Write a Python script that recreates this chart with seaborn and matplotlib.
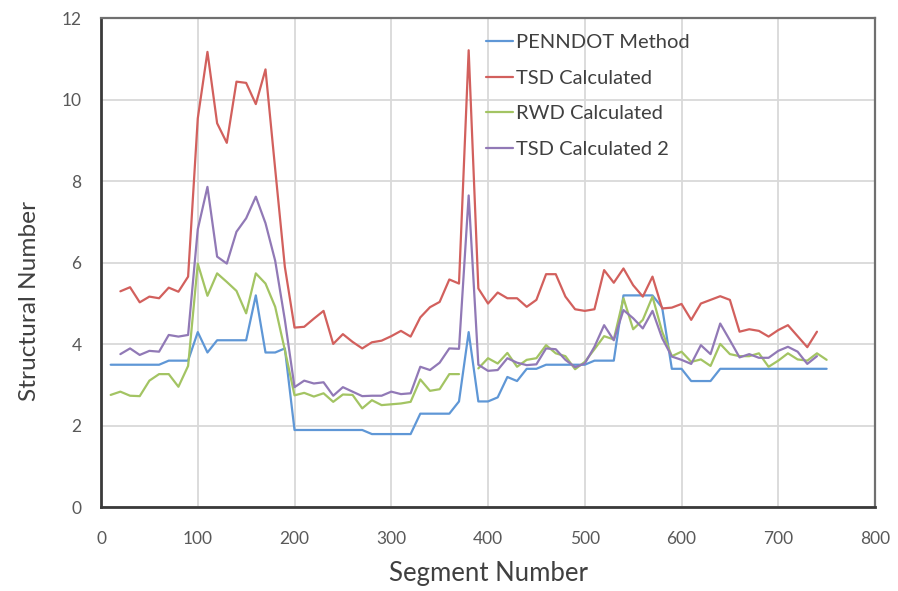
import numpy as np
import pandas as pd
import matplotlib
matplotlib.use("Agg")
import matplotlib.pyplot as plt
from matplotlib.lines import Line2D
import seaborn as sns

# Segment numbers (every 10th segment)
segments = list(range(10, 760, 10))

penndot = [3.5, 3.5, 3.5, 3.5, 3.5, 3.5, 3.6, 3.6, 3.6, 4.3,
           3.8, 4.1, 4.1, 4.1, 4.1, 5.2, 3.8, 3.8, 3.9, 1.9,
           1.9, 1.9, 1.9, 1.9, 1.9, 1.9, 1.9, 1.8, 1.8, 1.8,
           1.8, 1.8, 2.3, 2.3, 2.3, 2.3, 2.6, 4.3, 2.6, 2.6,
           2.7, 3.2, 3.1, 3.4, 3.4, 3.5, 3.5, 3.5, 3.5, 3.5,
           3.6, 3.6, 3.6, 5.2, 5.2, 5.2, 5.2, 4.9, 3.4, 3.4,
           3.1, 3.1, 3.1, 3.4, 3.4, 3.4, 3.4, 3.4, 3.4, 3.4,
           3.4, 3.4, 3.4, 3.4, 3.4]

tsd = [np.nan, 5.30, 5.40, 5.03, 5.17, 5.13, 5.39, 5.29, 5.66, 9.54,
       11.17, 9.42, 8.94, 10.44, 10.41, 9.89, 10.74, 8.30, 5.90, 4.41,
       4.43, 4.63, 4.82, 4.01, 4.25, 4.06, 3.90, 4.05, 4.09, 4.20,
       4.33, 4.19, 4.66, 4.91, 5.04, 5.59, 5.49, 11.21, 5.37, 5.00,
       5.27, 5.13, 5.13, 4.92, 5.09, 5.72, 5.72, 5.17, 4.86, 4.82,
       4.86, 5.82, 5.51, 5.86, 5.45, 5.17, 5.66, 4.88, 4.90, 4.99,
       4.60, 5.00, 5.09, 5.18, 5.09, 4.31, 4.37, 4.33, 4.19, 4.35,
       4.47, 4.20, 3.93, 4.31, np.nan]

rwd = [2.76, 2.84, 2.74, 2.73, 3.11, 3.27, 3.27, 2.96, 3.47, 5.98,
       5.19, 5.74, 5.53, 5.31, 4.76, 5.74, 5.49, 4.92, 3.86, 2.75,
       2.81, 2.72, 2.80, 2.59, 2.77, 2.76, 2.43, 2.63, 2.51, 2.53,
       2.55, 2.59, 3.14, 2.86, 2.90, 3.27, 3.27, np.nan, 3.41, 3.66,
       3.53, 3.79, 3.45, 3.62, 3.66, 3.98, 3.78, 3.71, 3.39, 3.57,
       3.88, 4.20, 4.12, 5.13, 4.37, 4.60, 5.17, 4.31, 3.71, 3.82,
       3.57, 3.63, 3.47, 4.01, 3.76, 3.71, 3.71, 3.78, 3.45, 3.60,
       3.78, 3.63, 3.60, 3.78, 3.62]

tsd2 = [np.nan, 3.76, 3.90, 3.74, 3.84, 3.82, 4.23, 4.19, 4.23, 6.82,
        7.86, 6.15, 5.98, 6.76, 7.09, 7.62, 6.97, 6.05, 4.60, 2.95,
        3.11, 3.04, 3.07, 2.74, 2.95, 2.84, 2.73, 2.74, 2.74, 2.84,
        2.78, 2.80, 3.45, 3.37, 3.55, 3.90, 3.89, 7.65, 3.50, 3.35,
        3.37, 3.66, 3.55, 3.49, 3.51, 3.90, 3.88, 3.62, 3.44, 3.53,
        3.94, 4.47, 4.10, 4.84, 4.64, 4.39, 4.82, 4.15, 3.70, 3.62,
        3.52, 3.98, 3.76, 4.51, 4.10, 3.68, 3.76, 3.67, 3.67, 3.84,
        3.94, 3.82, 3.52, 3.71, np.nan]

series_names = ["PENNDOT Method", "TSD Calculated", "RWD Calculated", "TSD Calculated 2"]
series_values = [penndot, tsd, rwd, tsd2]
colors = ["#5f97d6", "#d2605d", "#a3c463", "#9179b6"]

x_ticks = list(range(0, 900, 100))
y_ticks = list(range(0, 14, 2))

# Long-form table; a missing value splits a series into separate runs
rows = []
for name, vals in zip(series_names, series_values):
    run = 0
    for s, v in zip(segments, vals):
        if np.isnan(v):
            run += 1
            continue
        rows.append({"Segment": s, "SN": v, "Series": name, "Run": f"{name}-{run}"})
df = pd.DataFrame(rows)

sns.set_style("white")
plt.rcParams["font.family"] = ["Lato", "DejaVu Sans"]

fig = plt.figure(figsize=(8.98, 5.91), dpi=100)
ax = fig.add_axes([0.1125, 0.1413, 0.8619, 0.8282])

sns.lineplot(data=df, x="Segment", y="SN", hue="Series", units="Run",
             estimator=None, sort=False, hue_order=series_names,
             palette=colors, linewidth=1.6, ax=ax, legend=False)

ax.set_xlim(0, 800)
ax.set_ylim(0, 12)
ax.set_xticks(x_ticks)
ax.set_yticks(y_ticks)
ax.set_xticklabels([str(t) for t in x_ticks], fontsize=12.5, color="#595959")
ax.set_yticklabels([str(t) for t in y_ticks], fontsize=12.5, color="#595959")
ax.tick_params(axis="both", length=0)
ax.tick_params(axis="x", pad=17)
ax.tick_params(axis="y", pad=14)

ax.grid(True, color="#d9d9d9", linewidth=1.3)
ax.set_axisbelow(True)

for side in ["left", "bottom"]:
    ax.spines[side].set_color("#3a3a3a")
    ax.spines[side].set_linewidth(2.0)
for side in ["top", "right"]:
    ax.spines[side].set_color("#707070")
    ax.spines[side].set_linewidth(1.6)

ax.set_xlabel("Segment Number", fontsize=18.5, color="#404040", labelpad=10)
ax.set_ylabel("Structural Number", fontsize=17.6, color="#404040")
ax.yaxis.set_label_coords(-0.079, 0.422)

handles = [Line2D([], [], color=c, linewidth=1.6) for c in colors]
leg = ax.legend(handles, series_names, loc="upper left",
                bbox_to_anchor=(0.497, 0.968), frameon=False,
                fontsize=14.5, handlelength=1.35, handletextpad=0.15,
                labelspacing=0.93, borderpad=0, borderaxespad=0)
for t in leg.get_texts():
    t.set_color("#404040")

fig.savefig("out.png", dpi=100)
